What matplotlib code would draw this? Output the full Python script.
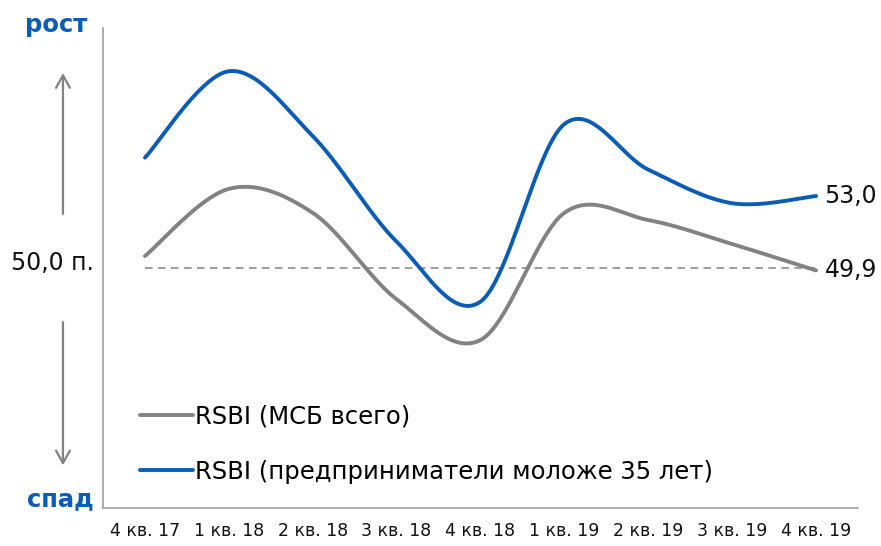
"""RSBI index: all SMEs vs entrepreneurs under 35, smoothed lines like the Excel original."""
import numpy as np
import matplotlib
matplotlib.use('Agg')
import matplotlib.pyplot as plt

QUARTERS = ['4 кв. 17', '1 кв. 18', '2 кв. 18', '3 кв. 18', '4 кв. 18',
            '1 кв. 19', '2 кв. 19', '3 кв. 19', '4 кв. 19']
RSBI_ALL = [50.5, 53.3, 52.3, 48.7, 47.0, 52.3, 52.0, 51.0, 49.9]
RSBI_YOUNG = [54.6, 58.2, 55.5, 51.1, 48.6, 56.0, 54.1, 52.7, 53.0]
LABEL_ALL = 'RSBI (МСБ всего)'
LABEL_YOUNG = 'RSBI (предприниматели моложе 35 лет)'
BASE = 50.0

BLUE = '#0b5cb5'
GREY = '#828282'
AXIS = '#a6a6a6'

plt.rcParams['font.family'] = ['DejaVu Sans']


def smooth(y, n=40):
    # Excel-style smoothing: cubic Bezier with Catmull-Rom control points
    y = np.asarray(y, float)
    x = np.arange(len(y), dtype=float)
    px = np.concatenate([[x[0]], x, [x[-1]]])
    py = np.concatenate([[y[0]], y, [y[-1]]])
    xs, ys = [], []
    t = np.linspace(0, 1, n)
    for i in range(len(y) - 1):
        p0 = np.array([px[i + 1], py[i + 1]])
        p3 = np.array([px[i + 2], py[i + 2]])
        c1 = p0 + (np.array([px[i + 2], py[i + 2]]) - np.array([px[i], py[i]])) / 6
        c2 = p3 - (np.array([px[i + 3], py[i + 3]]) - np.array([px[i + 1], py[i + 1]])) / 6
        b = ((1 - t) ** 3)[:, None] * p0 + (3 * (1 - t) ** 2 * t)[:, None] * c1 \
            + (3 * (1 - t) * t ** 2)[:, None] * c2 + (t ** 3)[:, None] * p3
        xs.append(b[:, 0]); ys.append(b[:, 1])
    return np.concatenate(xs), np.concatenate(ys)


fig = plt.figure(figsize=(8.81, 5.46), dpi=100)
ax = fig.add_axes([0.1169, 0.0696, 0.857, 0.879])

x = np.arange(len(QUARTERS))
ax.plot([x[0], x[-1]], [BASE, BASE], ls=(0, (5, 3.5)), color=GREY, lw=1.1, zorder=1)
gx, gy = smooth(RSBI_ALL)
bx, by = smooth(RSBI_YOUNG)
ax.plot(gx, gy, color=GREY, lw=2.8, label=LABEL_ALL, solid_capstyle='round', zorder=2)
ax.plot(bx, by, color=BLUE, lw=2.8, label=LABEL_YOUNG, solid_capstyle='round', zorder=3)

for vals in (RSBI_YOUNG, RSBI_ALL):
    ax.annotate(f'{vals[-1]:.1f}'.replace('.', ','), (x[-1], vals[-1]),
                xytext=(6, 0), textcoords='offset points', va='center',
                ha='left', fontsize=17, color='#111111')

ax.set_xlim(-0.5, len(QUARTERS) - 0.5)
ax.set_ylim(40, 60)
ax.set_xticks(x)
ax.set_xticklabels(QUARTERS, fontsize=12.5, color='#111111')
ax.set_yticks([])
ax.tick_params(axis='x', length=0, pad=10)
for s in ('top', 'right'):
    ax.spines[s].set_visible(False)
for s in ('left', 'bottom'):
    ax.spines[s].set_color(AXIS)
    ax.spines[s].set_linewidth(1.3)

ax.legend(loc='lower left', bbox_to_anchor=(0.02, 0.005), frameon=False,
          fontsize=17.5, handlelength=2.2, handletextpad=0.05, labelspacing=1.3)

# left-hand annotations: base level, direction arrows, growth/decline words
ax.text(-0.012, BASE + 0.2, f'{BASE:.1f}'.replace('.', ',') + ' п.',
        transform=ax.get_yaxis_transform(), ha='right', va='center',
        fontsize=17, color='#111111')
arrow = dict(arrowstyle='->,head_length=0.9,head_width=0.5', color=GREY, lw=1.6)
ax.annotate('', xy=(-0.053, 0.912), xytext=(-0.053, 0.607),
            xycoords='axes fraction', arrowprops=arrow)
ax.annotate('', xy=(-0.053, 0.083), xytext=(-0.053, 0.393),
            xycoords='axes fraction', arrowprops=arrow)
fig.text(0.064, 0.955, 'рост', ha='center', va='center', fontsize=17.5,
         fontweight='bold', color=BLUE)
fig.text(0.068, 0.085, 'спад', ha='center', va='center', fontsize=17.5,
         fontweight='bold', color=BLUE)

fig.savefig('out.png', dpi=100)
